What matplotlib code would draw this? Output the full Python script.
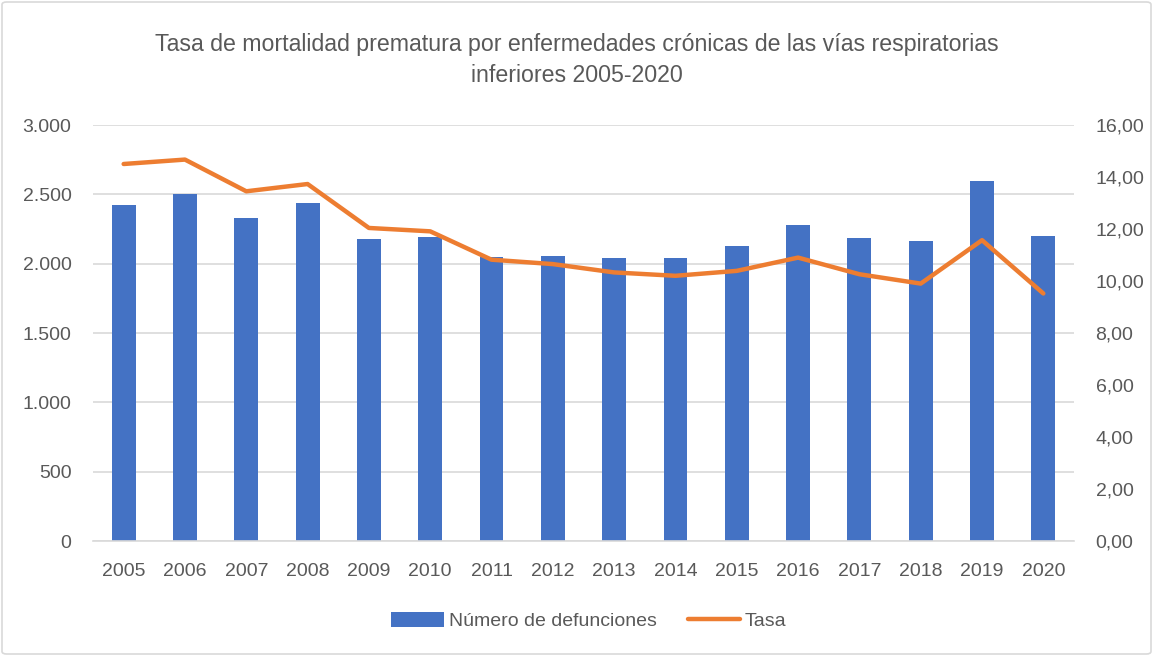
import matplotlib
matplotlib.use("Agg")
import matplotlib.pyplot as plt
from matplotlib.patches import FancyBboxPatch
from matplotlib.ticker import FuncFormatter

years = ["2005", "2006", "2007", "2008", "2009", "2010", "2011", "2012",
         "2013", "2014", "2015", "2016", "2017", "2018", "2019", "2020"]
defunciones = [2421, 2503, 2332, 2438, 2180, 2193, 2046, 2056,
               2039, 2039, 2125, 2277, 2187, 2161, 2596, 2197]
tasa = [14.50, 14.67, 13.45, 13.73, 12.04, 11.91, 10.82, 10.65,
        10.33, 10.20, 10.39, 10.90, 10.26, 9.90, 11.57, 9.52]

plt.rcParams['font.family'] = ['Liberation Sans', 'DejaVu Sans']
text_color = "#595959"
bar_color = "#4472C4"
line_color = "#ED7D31"
grid_color = "#D9D9D9"

W, H = 1153, 656
fig = plt.figure(figsize=(W / 100, H / 100), dpi=100)

# outer border
border = FancyBboxPatch((2 / W, 2 / H), 1 - 4 / W, 1 - 4 / H,
                        boxstyle="round,pad=0,rounding_size=0.004",
                        transform=fig.transFigure, fill=False,
                        edgecolor="#D9D9D9", linewidth=1.2)
fig.patches.append(border)

ax = fig.add_axes([93 / W, 1 - 541 / H, (1074 - 93) / W, (541 - 125) / H])
x = list(range(len(years)))
ax.bar(x, defunciones, width=0.39, color=bar_color, zorder=2,
       label="Número de defunciones")
ax.set_xlim(-0.5, len(years) - 0.5)
ax.set_ylim(0, 3000)
ax.set_yticks(range(0, 3001, 500))
ax.yaxis.set_major_formatter(FuncFormatter(lambda v, p: f"{int(v):,}".replace(",", ".")))
ax.set_xticks(x)
ax.set_xticklabels(years)
ax.grid(axis="y", color=grid_color, linewidth=1.2, zorder=0)
ax.set_axisbelow(True)
for s in ["top", "right", "left"]:
    ax.spines[s].set_visible(False)
ax.spines["bottom"].set_color(grid_color)
ax.spines["bottom"].set_linewidth(1.2)
ax.tick_params(axis="both", length=0, colors=text_color, labelsize=14)
ax.tick_params(axis="y", pad=15.5)
ax.tick_params(axis="x", pad=16)

ax2 = ax.twinx()
ax2.plot(x, tasa, color=line_color, linewidth=3.2, solid_capstyle="round",
         solid_joinstyle="round", label="Tasa", zorder=3)
ax2.set_ylim(0, 16)
ax2.set_yticks(range(0, 17, 2))
ax2.yaxis.set_major_formatter(FuncFormatter(lambda v, p: f"{v:.2f}".replace(".", ",")))
for s in ["top", "right", "left", "bottom"]:
    ax2.spines[s].set_visible(False)
ax2.tick_params(axis="y", length=0, colors=text_color, labelsize=14, pad=15.5)

fig.text(0.5, 1 - 45 / H, "Tasa de mortalidad prematura por enfermedades crónicas de las vías respiratorias",
         ha="center", va="center", fontsize=16.7, color=text_color)
fig.text(0.5, 1 - 75 / H, "inferiores 2005-2020",
         ha="center", va="center", fontsize=16.7, color=text_color)

h1, l1 = ax.get_legend_handles_labels()
h2, l2 = ax2.get_legend_handles_labels()
fig.legend(h1 + h2, l1 + l2, loc="center", bbox_to_anchor=(589 / W, 1 - 621 / H),
           ncol=2, frameon=False, fontsize=14, labelcolor=text_color,
           handlelength=2.7, handleheight=0.8, handletextpad=0.25, columnspacing=1.6)

fig.savefig("out.png", dpi=100)
